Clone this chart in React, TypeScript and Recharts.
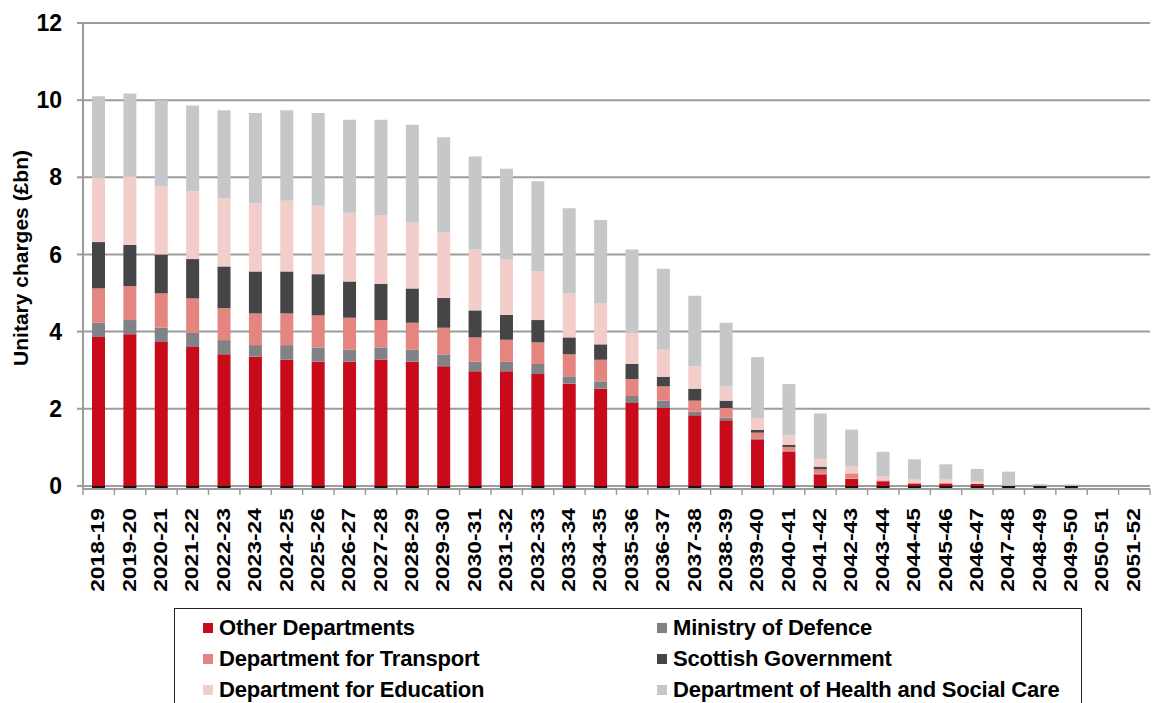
import React from 'react';
import { BarChart, Bar, XAxis, YAxis, CartesianGrid, Legend } from 'recharts';

const years = [
  '2018-19', '2019-20', '2020-21', '2021-22', '2022-23', '2023-24', '2024-25', '2025-26',
  '2026-27', '2027-28', '2028-29', '2029-30', '2030-31', '2031-32', '2032-33', '2033-34',
  '2034-35', '2035-36', '2036-37', '2037-38', '2038-39', '2039-40', '2040-41', '2041-42',
  '2042-43', '2043-44', '2044-45', '2045-46', '2046-47', '2047-48', '2048-49', '2049-50',
  '2050-51', '2051-52',
];

const otherDepartments = [3.86, 3.93, 3.73, 3.6, 3.41, 3.35, 3.28, 3.22, 3.22, 3.28, 3.22, 3.1, 2.97, 2.97, 2.9, 2.65, 2.52, 2.15, 2.02, 1.83, 1.7, 1.19, 0.89, 0.3, 0.18, 0.12, 0.06, 0.06, 0.05, 0, 0, 0, 0, 0];
const ministryOfDefence = [0.37, 0.37, 0.37, 0.37, 0.37, 0.3, 0.37, 0.37, 0.31, 0.31, 0.31, 0.31, 0.25, 0.25, 0.26, 0.19, 0.19, 0.18, 0.19, 0.1, 0.07, 0.03, 0.02, 0.02, 0.01, 0.005, 0, 0, 0, 0, 0, 0, 0, 0];
const transport = [0.89, 0.88, 0.89, 0.89, 0.83, 0.82, 0.82, 0.83, 0.83, 0.71, 0.7, 0.69, 0.63, 0.57, 0.56, 0.57, 0.56, 0.44, 0.37, 0.28, 0.25, 0.16, 0.1, 0.11, 0.12, 0.02, 0.02, 0.02, 0.01, 0, 0, 0, 0, 0];
const scottishGov = [1.2, 1.07, 1.01, 1.02, 1.08, 1.09, 1.09, 1.07, 0.94, 0.94, 0.89, 0.77, 0.7, 0.64, 0.58, 0.44, 0.4, 0.39, 0.25, 0.31, 0.19, 0.07, 0.05, 0.07, 0.01, 0, 0, 0, 0, 0, 0, 0, 0, 0];
const education = [1.65, 1.78, 1.77, 1.76, 1.77, 1.77, 1.83, 1.77, 1.78, 1.78, 1.71, 1.7, 1.58, 1.45, 1.26, 1.14, 1.06, 0.81, 0.7, 0.58, 0.37, 0.31, 0.25, 0.2, 0.18, 0.1, 0.1, 0.1, 0.05, 0.01, 0, 0, 0, 0];
const healthSocialCare = [2.13, 2.14, 2.23, 2.22, 2.28, 2.34, 2.35, 2.41, 2.41, 2.47, 2.53, 2.47, 2.41, 2.34, 2.34, 2.21, 2.16, 2.16, 2.1, 1.83, 1.65, 1.58, 1.33, 1.18, 0.96, 0.64, 0.51, 0.38, 0.33, 0.36, 0.05, 0.04, 0, 0];
// small dark marks drawn just under each bar's base
const baseMark = [-0.07, -0.07, -0.07, -0.07, -0.07, -0.07, -0.07, -0.07, -0.07, -0.07, -0.07, -0.07, -0.07, -0.07, -0.07, -0.07, -0.07, -0.07, -0.07, -0.07, -0.07, -0.07, -0.07, -0.07, -0.07, -0.07, -0.07, -0.07, -0.07, -0.07, -0.07, -0.07, 0, 0];

const yTicks = [0, 2, 4, 6, 8, 10, 12];

const seriesNames = [
  'Other Departments',
  'Ministry of Defence',
  'Department for Transport',
  'Scottish Government',
  'Department for Education',
  'Department of Health and Social Care',
];
const seriesColors = ['#C80A1A', '#808285', '#E5857F', '#454547', '#F3CDCA', '#C6C7C9'];
const seriesKeys = ['other', 'mod', 'transport', 'scottish', 'education', 'health'];
const seriesValues = [otherDepartments, ministryOfDefence, transport, scottishGov, education, healthSocialCare];

const rows = years.map((year, i) => {
  const row: Record<string, any> = { year, base: baseMark[i] };
  seriesKeys.forEach((k, s) => {
    row[k] = seriesValues[s][i];
  });
  return row;
});

const FONT = '"Liberation Sans", Arial, Helvetica, sans-serif';
const GRID = '#9c9c9c';

const XTick = (props: any) => {
  const { x, y, payload, index } = props;
  const off = payload && payload.offset ? payload.offset : 0;
  return (
    <g>
      <line x1={x - off} y1={y} x2={x - off} y2={y + 6} stroke={GRID} strokeWidth={1.5} />
      {index === years.length - 1 ? (
        <line x1={x + off} y1={y} x2={x + off} y2={y + 6} stroke={GRID} strokeWidth={1.5} />
      ) : null}
      <text
        transform={`translate(${x - 1},${y + 19}) rotate(-90) scale(1.27,1)`}
        textAnchor="end"
        dominantBaseline="central"
        fontFamily={FONT}
        fontWeight={700}
        fontSize={18}
        fill="#000"
      >
        {payload.value}
      </text>
    </g>
  );
};

const YLabel = (props: any) => {
  const vb = props.viewBox || { x: 0, y: 0, width: 0, height: 0 };
  const cx = vb.x + 28;
  const cy = vb.y + vb.height / 2 + 2;
  return (
    <text
      transform={`rotate(-90)`}
      x={-cy}
      y={cx}
      textAnchor="middle"
      fontFamily={FONT}
      fontWeight={700}
      fontSize={21}
      fill="#000"
    >
      Unitary charges (£bn)
    </text>
  );
};

const LegendBox = (props: any) => {
  const items = (props.payload || [])
    .filter((p: any) => p.dataKey !== 'base')
    .slice()
    .sort((a: any, b: any) => seriesNames.indexOf(a.value) - seriesNames.indexOf(b.value));
  return (
    <div
      style={{
        marginLeft: 174,
        marginTop: 2,
        width: 908,
        height: 104,
        boxSizing: 'border-box',
        border: '1.5px solid #222',
        padding: '3px 0 0 28px',
        display: 'grid',
        gridTemplateColumns: '454px 1fr',
        gridAutoRows: '31px',
        alignItems: 'center',
        background: '#fff',
      }}
    >
      {items.map((it: any) => (
        <div key={it.value} style={{ display: 'flex', alignItems: 'center', whiteSpace: 'nowrap' }}>
          <span style={{ display: 'inline-block', width: 10, height: 10, background: it.color, marginRight: 6 }} />
          <span
            style={{
              fontFamily: FONT,
              fontWeight: 700,
              fontSize: 22,
              lineHeight: 1,
              color: '#000',
              letterSpacing: -0.2,
            }}
          >
            {it.value}
          </span>
        </div>
      ))}
    </div>
  );
};

export default function App() {
  const W = 1156;
  const H = 703;
  return (
    <div style={{ position: 'absolute', left: 0, top: 0, width: W, height: H, overflow: 'hidden', background: '#fff' }}>
      <BarChart
        width={W}
        height={H}
        data={rows}
        margin={{ top: 23, right: 6, left: 0, bottom: 0 }}
        stackOffset="sign"
        barSize={13}
      >
        <CartesianGrid vertical={false} stroke={GRID} strokeWidth={2} />
        <XAxis
          dataKey="year"
          interval={0}
          height={117}
          tickLine={false}
          tickSize={0}
          tickMargin={0}
          axisLine={{ stroke: GRID, strokeWidth: 2 }}
          tick={<XTick />}
        />
        <YAxis
          width={83}
          type="number"
          domain={[-0.08, 12]}
          ticks={yTicks}
          tickSize={6}
          tickMargin={15}
          axisLine={{ stroke: GRID, strokeWidth: 2 }}
          tickLine={{ stroke: GRID, strokeWidth: 2 }}
          tick={{ fill: '#000', fontSize: 23, fontWeight: 700, fontFamily: FONT }}
          label={YLabel}
        />
        <Legend
          verticalAlign="bottom"
          height={97}
          itemSorter={null as any}
          content={LegendBox}
          wrapperStyle={{ left: 0, width: W }}
        />
        <Bar dataKey="base" stackId="a" fill="#141414" legendType="none" isAnimationActive={false} />
        {seriesKeys.map((k, s) => (
          <Bar
            key={k}
            dataKey={k}
            name={seriesNames[s]}
            stackId="a"
            fill={seriesColors[s]}
            isAnimationActive={false}
          />
        ))}
      </BarChart>
    </div>
  );
}
